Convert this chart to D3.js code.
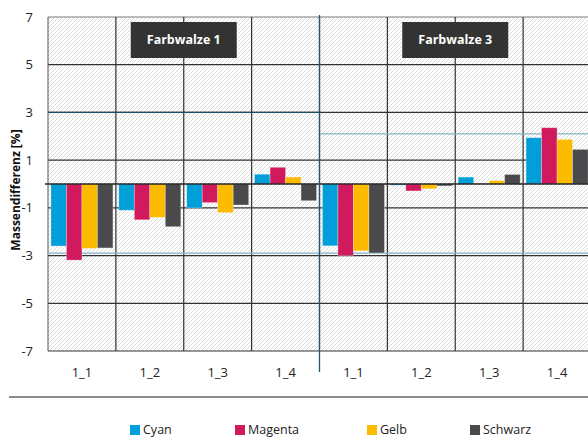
<!DOCTYPE html>
<html>
<head>
<meta charset="utf-8">
<script src="https://cdn.jsdelivr.net/npm/d3@7"></script>
<style>
  html, body { margin: 0; padding: 0; background: #fff; overflow: hidden; }
  svg { display: block; font-family: "Open Sans", "Noto Sans", sans-serif; }
</style>
</head>
<body>
<div id="chart"></div>
<script>
// Massendifferenz per Farbwalze and Messpunkt
const groups = ["Farbwalze 1", "Farbwalze 3"];
const categories = ["1_1", "1_2", "1_3", "1_4"];
const seriesNames = ["Cyan", "Magenta", "Gelb", "Schwarz"];
const seriesColors = ["#009fda", "#d1195d", "#fdbb00", "#4a4a4c"];

// values in order: Farbwalze 1 (1_1..1_4), then Farbwalze 3 (1_1..1_4)
const cyan    = [-2.60, -1.10, -1.00, 0.41, -2.59, -0.05, 0.29, 1.94];
const magenta = [-3.19, -1.50, -0.78, 0.70, -3.00, -0.29, 0.02, 2.36];
const gelb    = [-2.70, -1.40, -1.20, 0.29, -2.80, -0.20, 0.14, 1.87];
const schwarz = [-2.68, -1.79, -0.88, -0.70, -2.89, -0.08, 0.40, 1.45];

// tolerance lines per Farbwalze
const upperTol = [3.0, 2.1];
const lowerTol = [-2.9, -2.9];

const yTicks = [7, 5, 3, 1, -1, -3, -5, -7];

const width = 588, height = 438;
const svg = d3.select("#chart").append("svg")
    .attr("width", width)
    .attr("height", height);

// hatched background pattern
const defs = svg.append("defs");
const pat = defs.append("pattern")
    .attr("id", "hatch")
    .attr("patternUnits", "userSpaceOnUse")
    .attr("width", 4).attr("height", 4);
pat.append("rect").attr("width", 4).attr("height", 4).attr("fill", "#ffffff");
pat.append("path")
    .attr("d", "M-1,1 l2,-2 M0,4 l4,-4 M3,5 l2,-2")
    .attr("stroke", "#d2d2d2")
    .attr("stroke-width", 0.8);

// keys for the 8 slots along x
const slots = [];
groups.forEach((g, gi) => categories.forEach((c, ci) => slots.push({ key: gi + "_" + c, label: c, gi: gi, idx: gi * categories.length + ci })));

const x = d3.scaleBand()
    .domain(slots.map(d => d.key))
    .range([48, 591])
    .padding(0);

const xInner = d3.scaleBand()
    .domain(seriesNames)
    .range([0, x.bandwidth()])
    .paddingInner(0)
    .paddingOuter(0.19);

const y = d3.scaleLinear()
    .domain([-7, 7])
    .range([351, 17]);

const plotLeft = x.range()[0], plotRight = x.range()[1];

// background
svg.append("rect")
    .attr("x", plotLeft)
    .attr("y", y(7))
    .attr("width", plotRight - plotLeft)
    .attr("height", y(-7) - y(7))
    .attr("fill", "url(#hatch)");

// horizontal grid
svg.append("g").selectAll("line")
    .data(yTicks)
    .join("line")
    .attr("x1", plotLeft).attr("x2", plotRight)
    .attr("y1", d => y(d)).attr("y2", d => y(d))
    .attr("stroke", d => d === 7 ? "#7a7a7a" : "#333333")
    .attr("stroke-width", 1.2);

// vertical grid at slot boundaries
svg.append("g").selectAll("line")
    .data(slots.slice(1))
    .join("line")
    .attr("x1", d => x(d.key)).attr("x2", d => x(d.key))
    .attr("y1", y(7)).attr("y2", y(-7))
    .attr("stroke", "#333333")
    .attr("stroke-width", 1.2);

// left axis line
svg.append("line")
    .attr("x1", plotLeft).attr("x2", plotLeft)
    .attr("y1", y(7)).attr("y2", y(-7))
    .attr("stroke", "#555").attr("stroke-width", 1);

// tolerance lines for each Farbwalze
const groupExtent = gi => {
    const first = x(slots[gi * categories.length].key);
    const lastSlot = slots[gi * categories.length + categories.length - 1];
    return [first, x(lastSlot.key) + x.bandwidth()];
};
groups.forEach((g, gi) => {
    const [x1, x2] = groupExtent(gi);
    svg.append("line")
        .attr("x1", x1).attr("x2", x2)
        .attr("y1", y(upperTol[gi])).attr("y2", y(upperTol[gi]))
        .attr("stroke", gi === 0 ? "#1c4d62" : "#8ab4c8")
        .attr("stroke-width", 1.3);
    svg.append("line")
        .attr("x1", x1).attr("x2", x2)
        .attr("y1", y(lowerTol[gi])).attr("y2", y(lowerTol[gi]))
        .attr("stroke", "#8ab4c8")
        .attr("stroke-width", 1.3);
});

// bars
const seriesValues = [cyan, magenta, gelb, schwarz];
const barData = [];
seriesValues.forEach((vals, si) => vals.forEach((v, i) => barData.push({ s: seriesNames[si], si: si, slot: slots[i], v: v })));

svg.append("g").selectAll("rect")
    .data(barData)
    .join("rect")
    .attr("x", d => x(d.slot.key) + xInner(d.s))
    .attr("y", d => y(Math.max(0, d.v)))
    .attr("width", xInner.bandwidth())
    .attr("height", d => Math.abs(y(d.v) - y(0)))
    .attr("fill", d => seriesColors[d.si])
    .attr("stroke", "rgba(255,255,255,0.35)")
    .attr("stroke-width", 0.8);

// zero line
svg.append("line")
    .attr("x1", plotLeft - 3).attr("x2", plotRight)
    .attr("y1", y(0)).attr("y2", y(0))
    .attr("stroke", "#222").attr("stroke-width", 1.3);

// divider between Farbwalze groups
const divX = x(slots[categories.length].key);
svg.append("line")
    .attr("x1", divX).attr("x2", divX)
    .attr("y1", y(7) - 2).attr("y2", 372)
    .attr("stroke", "#1f5a74").attr("stroke-width", 1.3);

// group title boxes
groups.forEach((g, gi) => {
    const [x1, x2] = groupExtent(gi);
    const cx = (x1 + x2) / 2;
    svg.append("rect")
        .attr("x", cx - 53).attr("y", 22)
        .attr("width", 106).attr("height", 36)
        .attr("fill", "#333333");
    svg.append("text")
        .attr("x", cx).attr("y", 40)
        .attr("dy", "0.35em")
        .attr("text-anchor", "middle")
        .attr("fill", "#ffffff")
        .attr("font-size", 12.5)
        .attr("font-weight", "bold")
        .text(g);
});

// y tick labels
svg.append("g").selectAll("text")
    .data(yTicks)
    .join("text")
    .attr("x", 33)
    .attr("y", d => y(d))
    .attr("dy", "0.35em")
    .attr("text-anchor", "end")
    .attr("font-size", 13)
    .attr("fill", "#222")
    .text(d => d);

// x labels
svg.append("g").selectAll("text")
    .data(slots)
    .join("text")
    .attr("x", d => x(d.key) + x.bandwidth() / 2)
    .attr("y", 372)
    .attr("dy", "0.35em")
    .attr("text-anchor", "middle")
    .attr("font-size", 13)
    .attr("fill", "#222")
    .text(d => d.label);

// y axis title
svg.append("text")
    .attr("transform", "translate(16,190) rotate(-90)")
    .attr("text-anchor", "middle")
    .attr("dy", "0.35em")
    .attr("font-size", 12)
    .attr("font-weight", "bold")
    .attr("fill", "#111")
    .text("Massendifferenz [%]");

// separator line above legend
svg.append("line")
    .attr("x1", 9).attr("x2", width)
    .attr("y1", 397).attr("y2", 397)
    .attr("stroke", "#666").attr("stroke-width", 1.5);

// legend
const legendX = [130, 235, 367, 470];
const legend = svg.append("g").selectAll("g")
    .data(seriesNames)
    .join("g")
    .attr("transform", (d, i) => `translate(${legendX[i]},425)`);
legend.append("rect")
    .attr("width", 10).attr("height", 10)
    .attr("fill", (d, i) => seriesColors[i]);
legend.append("text")
    .attr("x", 13).attr("y", 5)
    .attr("dy", "0.32em")
    .attr("font-size", 12.5)
    .attr("fill", "#222")
    .text(d => d);
</script>
</body>
</html>
